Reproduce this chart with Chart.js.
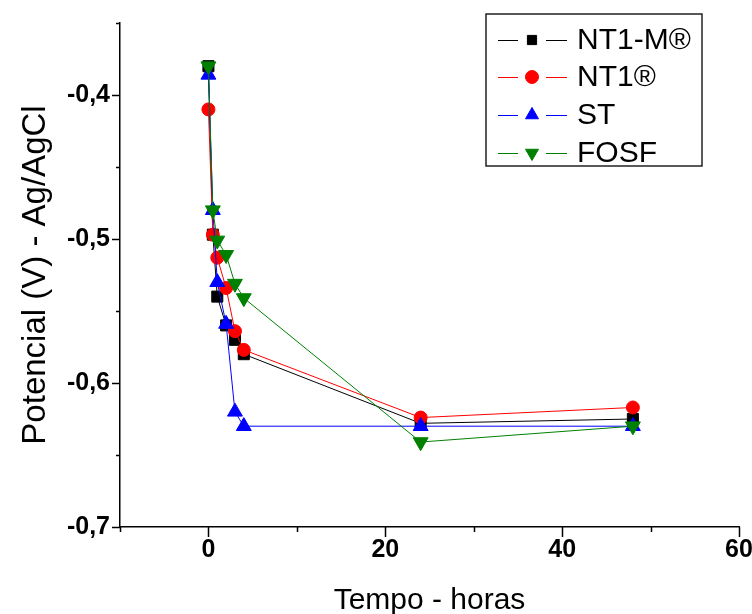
<!DOCTYPE html>
<html>
<head>
<meta charset="utf-8">
<script src="https://cdn.jsdelivr.net/npm/chart.js@4/dist/chart.umd.min.js"></script>
<style>
html,body{margin:0;padding:0;background:#fff;}
#wrap{width:752px;height:614px;position:relative;}
</style>
</head>
<body>
<div id="wrap"><canvas id="c" width="752" height="614"></canvas></div>
<script>
// ---- data ----
const times = [0, 0.5, 1, 2, 3, 4, 24, 48];
const seriesNames = ["NT1-M\u00AE", "NT1\u00AE", "ST", "FOSF"];
const nt1m = [-0.380, -0.497, -0.540, -0.560, -0.570, -0.580, -0.628, -0.625];
const nt1  = [-0.410, -0.497, -0.513, -0.534, -0.564, -0.577, -0.624, -0.617];
const st   = [-0.386, -0.480, -0.530, -0.559, -0.620, -0.630, -0.630, -0.630];
const fosf = [-0.380, -0.480, -0.501, -0.511, -0.531, -0.541, -0.641, -0.630];
const xTickLabels = [0, 20, 40, 60];
const yTickLabels = [-0.4, -0.5, -0.6, -0.7];
const xTitle = "Tempo - horas";
const yTitle = "Potencial (V) - Ag/AgCl";

const colors = ['#000000', '#ff0000', '#0000ff', '#008000'];
const styles = ['rect', 'circle', 'triangle', 'triangle'];
const rots = [0, 0, 0, 180];
const radii = [7.8, 6.5, 8.6, 8.6];
const allSeries = [nt1m, nt1, st, fosf];

const datasets = allSeries.map((arr, i) => ({
  label: seriesNames[i],
  data: arr.map((v, k) => ({x: times[k], y: v})),
  borderColor: colors[i],
  backgroundColor: colors[i],
  pointBackgroundColor: colors[i],
  pointBorderColor: colors[i],
  borderWidth: 1,
  pointRadius: radii[i],
  pointHoverRadius: radii[i],
  pointStyle: styles[i],
  pointRotation: rots[i],
  pointBorderWidth: 1,
  tension: 0,
  order: 3 - i
}));

function near(v, list) { return list.some(t => Math.abs(t - v) < 1e-6); }

function drawMarker(ctx, style, rot, x, y, r, color) {
  ctx.save();
  ctx.fillStyle = color; ctx.strokeStyle = color; ctx.lineWidth = 1;
  ctx.beginPath();
  if (style === 'rect') {
    const s = Math.SQRT1_2 * r;
    ctx.rect(x - s, y - s, 2 * s, 2 * s);
  } else if (style === 'circle') {
    ctx.arc(x, y, r, 0, Math.PI * 2);
  } else {
    const a0 = (rot * Math.PI / 180) - Math.PI / 2;
    for (let k = 0; k < 3; k++) {
      const a = a0 + k * 2 * Math.PI / 3;
      const px = x + r * Math.cos(a), py = y + r * Math.sin(a);
      if (k === 0) ctx.moveTo(px, py); else ctx.lineTo(px, py);
    }
    ctx.closePath();
  }
  ctx.fill(); ctx.stroke();
  ctx.restore();
}

const tickPlugin = {
  id: 'ticksAndLegend',
  afterDraw(chart) {
    const ctx = chart.ctx;
    const xs = chart.scales.x, ys = chart.scales.y;
    ctx.save();
    ctx.strokeStyle = '#000'; ctx.lineWidth = 1.5;
    xs.ticks.forEach(t => {
      const px = Math.round(xs.getPixelForValue(t.value)) + 0.5;
      const len = near(t.value, xTickLabels) ? 10 : 5;
      ctx.beginPath(); ctx.moveTo(px, ys.bottom); ctx.lineTo(px, ys.bottom + len); ctx.stroke();
    });
    ys.ticks.forEach(t => {
      const py = Math.round(ys.getPixelForValue(t.value)) + 0.5;
      const len = near(t.value, yTickLabels) ? 8 : 4;
      ctx.beginPath(); ctx.moveTo(xs.left, py); ctx.lineTo(xs.left - len, py); ctx.stroke();
    });
    // legend
    const L = 486, T = 14, W = 216, H = 152;
    ctx.lineWidth = 1.5; ctx.strokeStyle = '#222';
    ctx.strokeRect(L, T, W, H);
    const rowsY = [40, 77, 115, 153];
    ctx.font = '30px Arial, "Liberation Sans", sans-serif';
    ctx.textBaseline = 'middle'; ctx.textAlign = 'left';
    seriesNames.forEach((name, i) => {
      const y = rowsY[i];
      ctx.strokeStyle = colors[i]; ctx.lineWidth = 1;
      ctx.beginPath(); ctx.moveTo(498, y + 0.5); ctx.lineTo(518, y + 0.5);
      ctx.moveTo(546, y + 0.5); ctx.lineTo(567, y + 0.5); ctx.stroke();
      drawMarker(ctx, styles[i], rots[i], 532, y, styles[i] === 'triangle' ? 7.5 : 6.5, colors[i]);
      ctx.fillStyle = '#000';
      ctx.fillText(name, 577, y + 1);
    });
    ctx.restore();
  }
};

new Chart(document.getElementById('c'), {
  type: 'line',
  data: { datasets },
  plugins: [tickPlugin],
  options: {
    responsive: false,
    animation: false,
    layout: { padding: { top: 23, right: 13, left: 0, bottom: 0 } },
    plugins: { legend: { display: false }, tooltip: { enabled: false } },
    scales: {
      x: {
        type: 'linear', min: -10, max: 60,
        afterFit(s) { s.height = 87; s.paddingLeft = 0; s.paddingRight = 0; },
        ticks: {
          stepSize: 10, padding: 8, color: '#000',
          font: { family: 'Arial, "Liberation Sans", sans-serif', size: 25, weight: 'bold' },
          maxRotation: 0, autoSkip: false,
          callback: v => near(v, xTickLabels) ? String(Math.round(v)) : ''
        },
        grid: { display: false, drawTicks: false },
        border: { display: true, color: '#000', width: 1.5 },
        title: {
          display: true, text: xTitle, color: '#000',
          font: { family: 'Arial, "Liberation Sans", sans-serif', size: 30, lineHeight: 1 },
          padding: { top: 0, bottom: -2 }
        }
      },
      y: {
        type: 'linear', min: -0.7, max: -0.35,
        afterFit(s) { s.width = 120; s.paddingTop = 0; s.paddingBottom = 0; },
        ticks: {
          stepSize: 0.05, padding: 10, color: '#000',
          font: { family: 'Arial, "Liberation Sans", sans-serif', size: 25, weight: 'bold' },
          autoSkip: false,
          callback: v => near(v, yTickLabels) ? v.toFixed(1).replace('.', ',') : ''
        },
        grid: { display: false, drawTicks: false },
        border: { display: true, color: '#000', width: 1.5 },
        title: {
          display: true, text: yTitle, color: '#000',
          font: { family: 'Arial, "Liberation Sans", sans-serif', size: 33, lineHeight: 1 },
          padding: { top: 19, bottom: 0 }
        }
      }
    }
  }
});
</script>
</body>
</html>
